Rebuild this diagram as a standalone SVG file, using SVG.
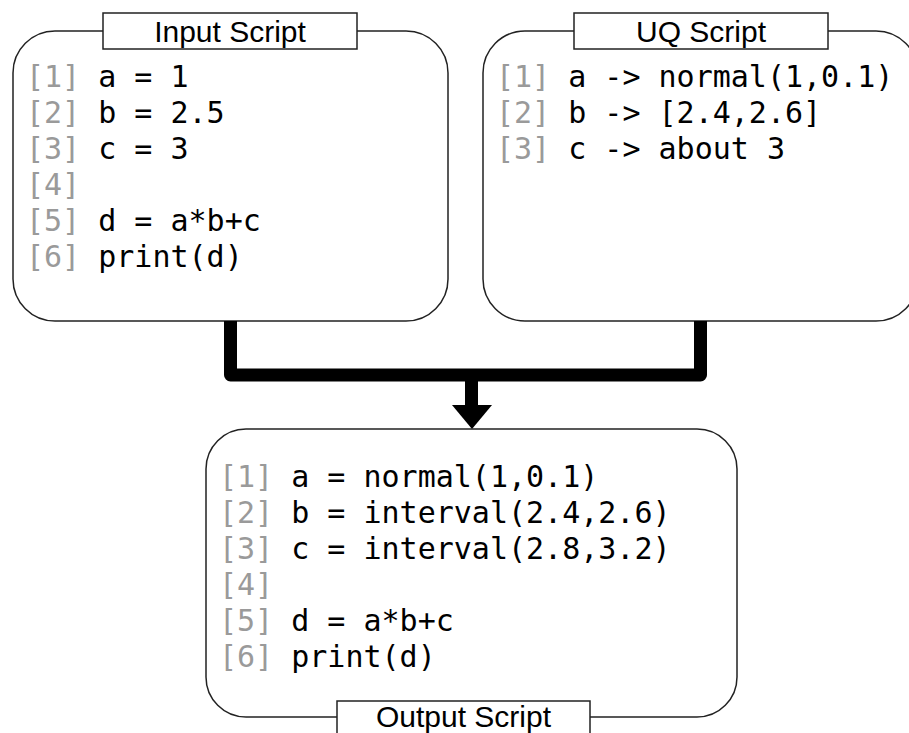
<svg xmlns="http://www.w3.org/2000/svg" width="909" height="733" viewBox="0 0 909 733">
<style>
.box{fill:#fff;stroke:#222;stroke-width:1.5}
.tbox{fill:#fff;stroke:#222;stroke-width:1.5}
.title{font-family:"Liberation Sans",Arial,sans-serif;font-size:30px;fill:#000;text-anchor:middle}
.code{font-family:"DejaVu Sans Mono",monospace;font-size:30px;fill:#000;white-space:pre}
.ln{fill:#9a9a9a}
.conn{fill:none;stroke:#000;stroke-width:13;stroke-linejoin:round}
</style>
<rect width="909" height="733" fill="#fff"/>
<g id="input-script">
<rect class="box" x="13" y="31" width="435" height="290" rx="42" ry="42"/>
<rect class="tbox" x="103" y="13" width="254" height="36"/>
<text class="title" x="230" y="42">Input Script</text>
<text class="code" x="26" y="87"><tspan class="ln">[1]</tspan> a = 1</text>
<text class="code" x="26" y="123"><tspan class="ln">[2]</tspan> b = 2.5</text>
<text class="code" x="26" y="159"><tspan class="ln">[3]</tspan> c = 3</text>
<text class="code" x="26" y="195"><tspan class="ln">[4]</tspan></text>
<text class="code" x="26" y="231"><tspan class="ln">[5]</tspan> d = a*b+c</text>
<text class="code" x="26" y="267"><tspan class="ln">[6]</tspan> print(d)</text>
</g>
<g id="uq-script">
<rect class="box" x="483" y="31" width="435" height="290" rx="42" ry="42"/>
<rect class="tbox" x="574" y="13" width="254" height="36"/>
<text class="title" x="701" y="42">UQ Script</text>
<text class="code" x="496" y="87"><tspan class="ln">[1]</tspan> a -&gt; normal(1,0.1)</text>
<text class="code" x="496" y="123"><tspan class="ln">[2]</tspan> b -&gt; [2.4,2.6]</text>
<text class="code" x="496" y="159"><tspan class="ln">[3]</tspan> c -&gt; about 3</text>
</g>
<g id="connectors">
<path class="conn" d="M230.5,321 V375 H700.5 V321"/>
<path class="conn" d="M471.5,375 V407" style="stroke-linejoin:miter"/>
<polygon points="452,405 492,405 472,429" fill="#000"/>
</g>
<g id="output-script">
<rect class="box" x="206" y="429" width="531" height="288" rx="40" ry="40"/>
<rect class="tbox" x="337" y="701" width="253" height="40"/>
<text class="title" x="463.5" y="727">Output Script</text>
<text class="code" x="219" y="487"><tspan class="ln">[1]</tspan> a = normal(1,0.1)</text>
<text class="code" x="219" y="523"><tspan class="ln">[2]</tspan> b = interval(2.4,2.6)</text>
<text class="code" x="219" y="559"><tspan class="ln">[3]</tspan> c = interval(2.8,3.2)</text>
<text class="code" x="219" y="595"><tspan class="ln">[4]</tspan></text>
<text class="code" x="219" y="631"><tspan class="ln">[5]</tspan> d = a*b+c</text>
<text class="code" x="219" y="667"><tspan class="ln">[6]</tspan> print(d)</text>
</g>
</svg>
